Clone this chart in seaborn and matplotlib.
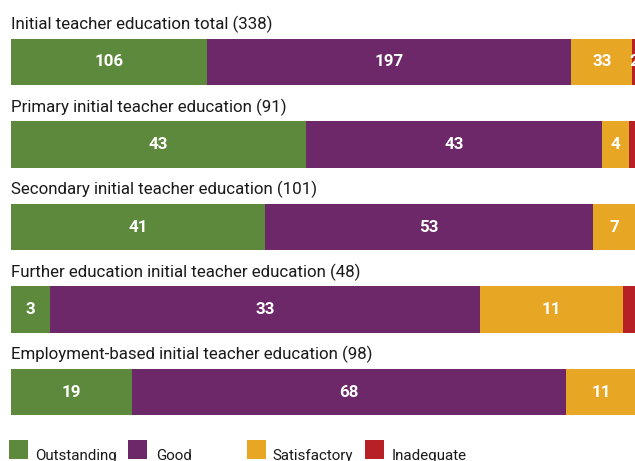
import matplotlib
matplotlib.use("Agg")
import matplotlib.pyplot as plt
import seaborn as sns
import pandas as pd
from matplotlib import font_manager
from matplotlib.patches import Rectangle

# ---- data ----
categories = [
    "Initial teacher education total (338)",
    "Primary initial teacher education (91)",
    "Secondary initial teacher education (101)",
    "Further education initial teacher education (48)",
    "Employment-based initial teacher education (98)",
]
grades = ["Outstanding", "Good", "Satisfactory", "Inadequate"]
outstanding = [106, 43, 41, 3, 19]
good = [197, 43, 53, 33, 68]
satisfactory = [33, 4, 7, 11, 11]
inadequate = [2, 1, 0, 1, 0]
colors = ["#5C893B", "#6C2869", "#E7A725", "#B72025"]

sns.set_theme(style="white")
available = {f.name for f in font_manager.fontManager.ttflist}
family = "Liberation Sans Narrow" if "Liberation Sans Narrow" in available else "Roboto"
plt.rcParams["font.family"] = [family, "DejaVu Sans"]

W, H = 635, 461
fig = plt.figure(figsize=(W / 100, H / 100), dpi=100)
fig.patch.set_facecolor("white")
ax = fig.add_axes([11 / W, 1 - 433.25 / H, 625 / W, 412.5 / H])

df = pd.DataFrame({"category": categories, "Outstanding": outstanding, "Good": good,
                   "Satisfactory": satisfactory, "Inadequate": inadequate})
totals = df[grades].sum(axis=1)
pct = df[grades].div(totals, axis=0) * 100
cum = pct.cumsum(axis=1)
plot_df = cum.copy()
plot_df["category"] = categories

for g, c in reversed(list(zip(grades, colors))):
    sns.barplot(data=plot_df, x=g, y="category", orient="h", color=c, width=0.558,
                saturation=1, edgecolor="none", linewidth=0, ax=ax)

ax.set_xlim(0, 100)
ax.set_ylim(4.5, -0.5)
ax.axis("off")

# segment labels (single-unit slivers are left unlabeled, as in the original)
num_texts = []
for i in range(len(categories)):
    for g in grades:
        v = df.loc[i, g]
        if v >= 2:
            xc = cum.loc[i, g] - pct.loc[i, g] / 2
            t = ax.text(xc, i, str(v), ha="center", va="center", color="white",
                        fontweight="bold", fontsize=12, clip_on=False)
            num_texts.append(t)

# titles
title_texts = []
for i, cat in enumerate(categories):
    t = ax.text(0, i - 0.279 - 9.5 / 82.5, cat, ha="left", va="baseline",
                color="#1a1a1a", fontsize=12, clip_on=False)
    title_texts.append(t)

# legend (manual, fixed columns)
leg_x = [9, 128, 247, 365]
leg_tx = [35, 156, 272, 392]
leg_texts = []
for g, c, x, tx in zip(grades, colors, leg_x, leg_tx):
    fig.add_artist(Rectangle((x / W, 1 - 459 / H), 19 / W, 19 / H,
                             transform=fig.transFigure, facecolor=c, edgecolor="none"))
    t = fig.text(tx / W, 1 - 459.5 / H, g, ha="left", va="baseline",
                 color="#1a1a1a", fontsize=12)
    leg_texts.append(t)

# fit font sizes to measured widths in the original
fig.canvas.draw()
r = fig.canvas.get_renderer()
s_title = 12 * 261 / title_texts[0].get_window_extent(r).width
for t in title_texts:
    t.set_fontsize(s_title)
s_leg = 12 * 73 / leg_texts[0].get_window_extent(r).width
s_leg = 0.5 * (s_leg + s_title)
for t in leg_texts:
    t.set_fontsize(s_leg)
s_num = 12 * 29 / num_texts[0].get_window_extent(r).width
for t in num_texts:
    t.set_fontsize(s_num)

fig.savefig("out.png", dpi=100, facecolor="white")
